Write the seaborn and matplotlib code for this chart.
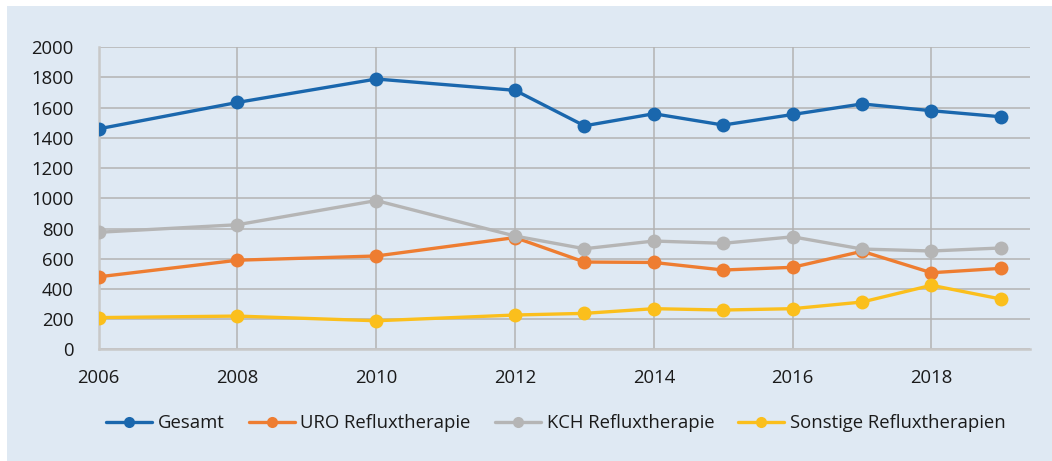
import numpy as np
import pandas as pd
import matplotlib
matplotlib.use("Agg")
import matplotlib.pyplot as plt
import seaborn as sns

years = [2006, 2008, 2010, 2012, 2013, 2014, 2015, 2016, 2017, 2018, 2019]
gesamt = [1460, 1635, 1790, 1715, 1480, 1560, 1485, 1555, 1625, 1580, 1540]
uro = [480, 590, 618, 740, 578, 575, 525, 543, 649, 507, 536]
kch = [775, 825, 985, 750, 666, 717, 702, 745, 664, 651, 671]
sonstige = [210, 220, 189, 227, 238, 269, 260, 269, 313, 424, 333]

series_names = ["Gesamt", "URO Refluxtherapie", "KCH Refluxtherapie", "Sonstige Refluxtherapien"]
colors = ["#1a67ad", "#ee7d31", "#b5b5b5", "#fbbf1c"]
y_ticks = [0, 200, 400, 600, 800, 1000, 1200, 1400, 1600, 1800, 2000]
x_ticks = [2006, 2008, 2010, 2012, 2014, 2016, 2018]

df = pd.concat([
    pd.DataFrame({"Jahr": years, "Wert": vals, "Serie": name})
    for name, vals in zip(series_names, [gesamt, uro, kch, sonstige])
])

sns.set_theme(style="white")
plt.rcParams['font.family'] = ['Open Sans', 'DejaVu Sans']

bg = "#dfe9f3"
fig = plt.figure(figsize=(10.52, 4.61), dpi=100, facecolor="white")
fig.patches.append(plt.Rectangle((7/1052, 0), 1 - 7/1052, 1 - 6/461,
                                 transform=fig.transFigure, facecolor=bg,
                                 edgecolor="none", zorder=-10))
ax = fig.add_axes([98.7/1052, 1 - 349.3/461, (1030 - 98.7)/1052, (349.3 - 47.3)/461])
ax.set_facecolor(bg)

sns.lineplot(data=df, x="Jahr", y="Wert", hue="Serie", hue_order=series_names,
             palette=colors, marker="o", markersize=10, markeredgewidth=0,
             linewidth=2.4, ax=ax, legend=False, zorder=3)

ax.set_xlim(2006, 2019.42)
ax.set_ylim(0, 2000)
ax.set_xticks(x_ticks)
ax.set_yticks(y_ticks)
ax.set_xticklabels([str(t) for t in x_ticks], fontsize=13.3, color="#1a1a1a")
ax.set_yticklabels([str(t) for t in y_ticks], fontsize=13.3, color="#1a1a1a")
ax.tick_params(axis="both", length=0)
ax.tick_params(axis="x", pad=14)
ax.tick_params(axis="y", pad=18)
ax.grid(True, color="#b3b3b3", linewidth=1.1)
ax.set_axisbelow(True)
for s in ["top", "right"]:
    ax.spines[s].set_visible(False)
for s in ["left", "bottom"]:
    ax.spines[s].set_color("#c8c8c8")
    ax.spines[s].set_linewidth(1.8)
ax.set_xlabel("")
ax.set_ylabel("")

from matplotlib.lines import Line2D
handles = [Line2D([0], [0], color=c, linewidth=2.4, marker="o", markersize=8,
                  markeredgewidth=0) for c in colors]
leg = fig.legend(handles, series_names, loc="center", ncol=4,
                 bbox_to_anchor=(556/1052, 1 - 423/461), frameon=False,
                 fontsize=13.3, handlelength=2.5, handletextpad=0.3,
                 columnspacing=1.3)
for t in leg.get_texts():
    t.set_color("#1a1a1a")

fig.savefig("out.png", dpi=100, facecolor="white")
